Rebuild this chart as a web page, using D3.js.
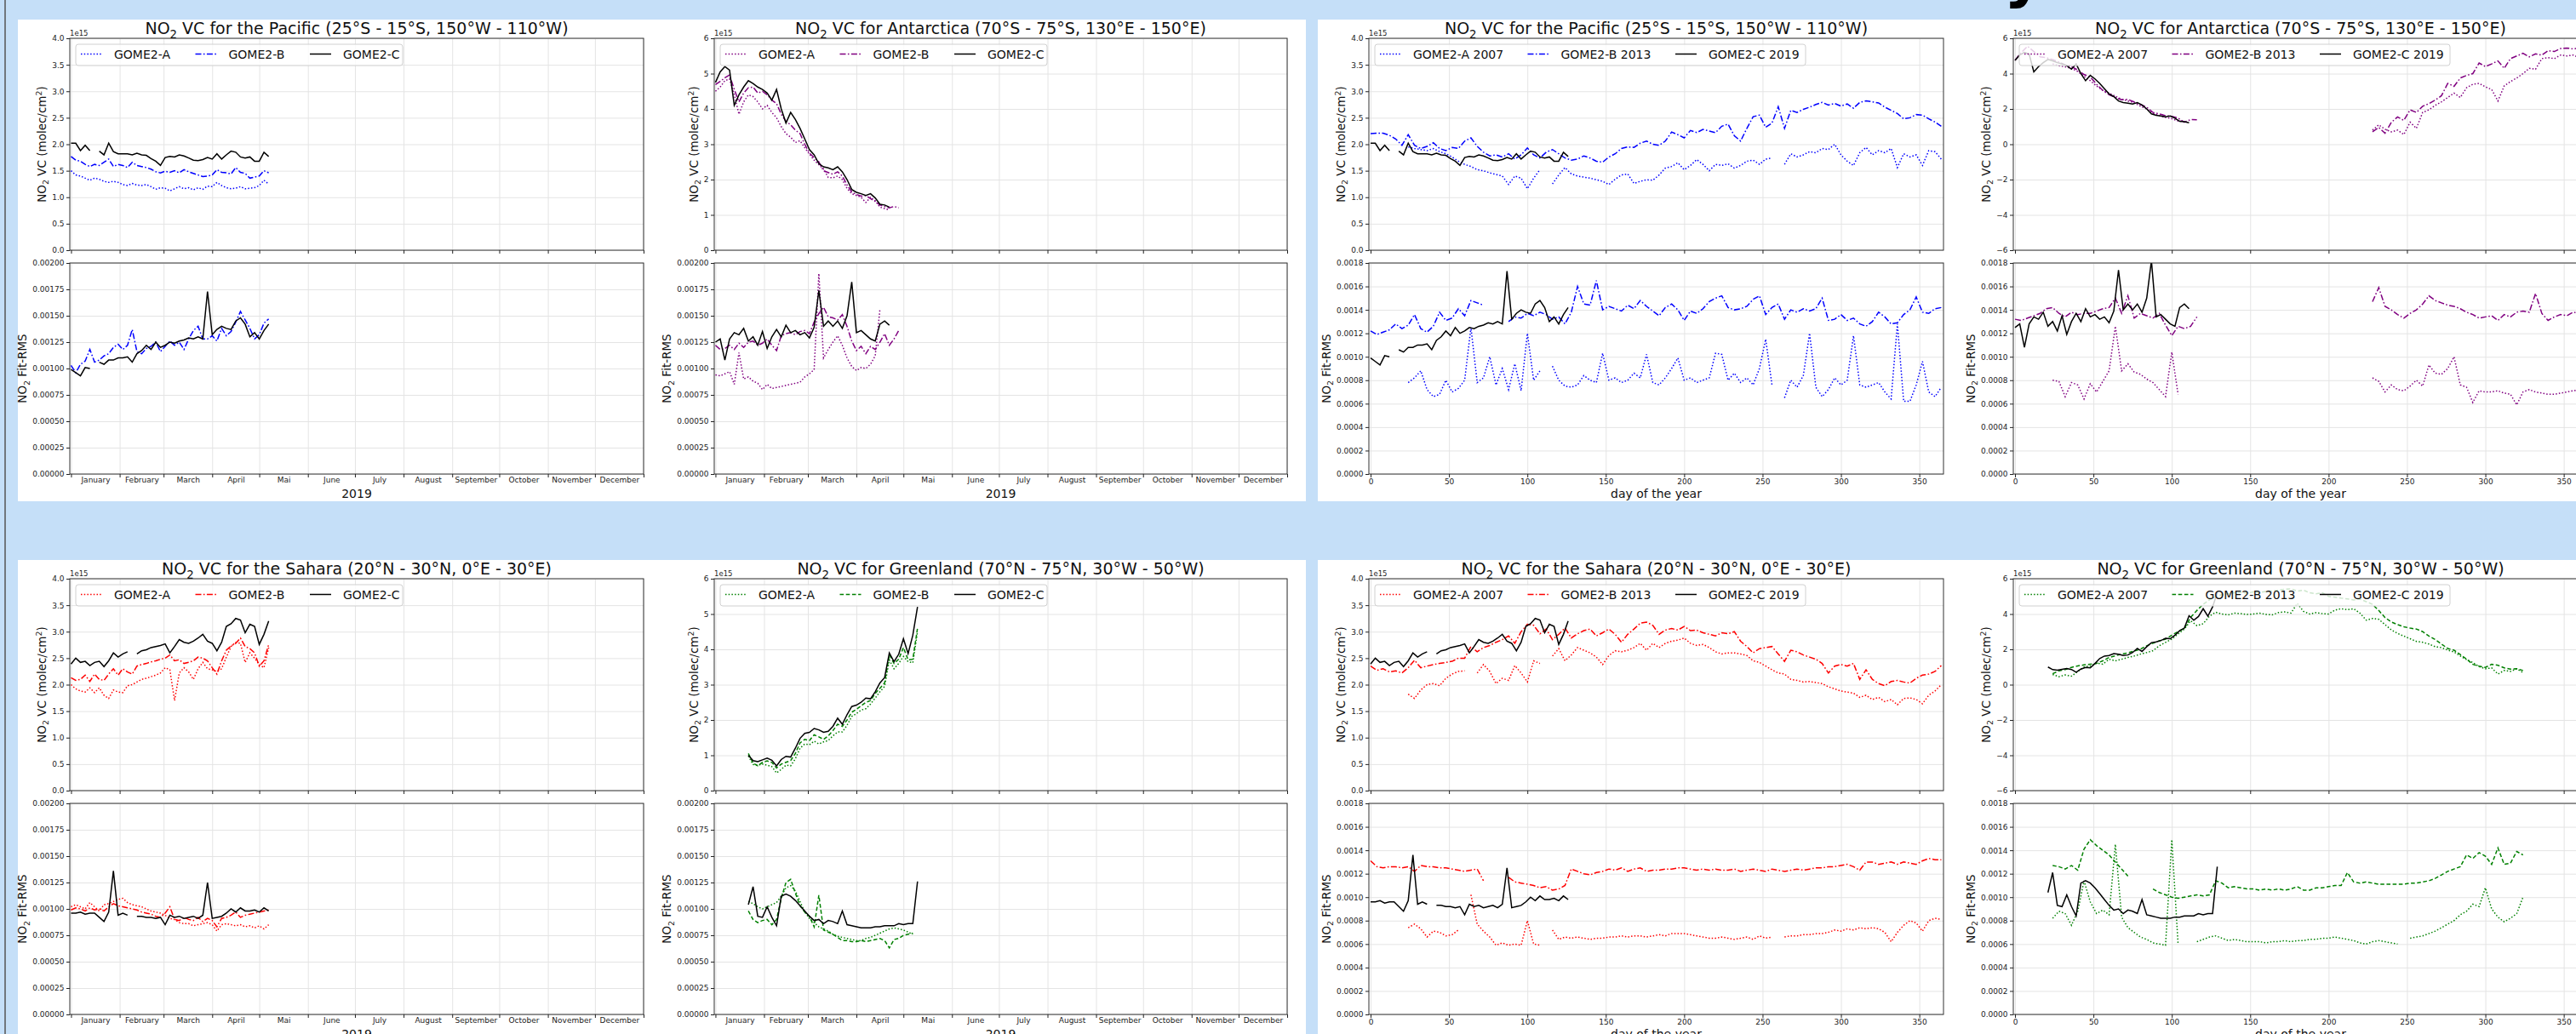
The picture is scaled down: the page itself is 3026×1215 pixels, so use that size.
<!DOCTYPE html>
<html>
<head>
<meta charset="utf-8">
<script src="https://cdn.jsdelivr.net/npm/d3@7"></script>
<style>
  body { margin: 0; background: #c5dff8; }
  svg { display: block; }
  text { font-family: "DejaVu Sans", sans-serif; }
</style>
</head>
<body>
<svg id="fig" width="3026" height="1215"></svg>
<script>
// ---- x categories -------------------------------------------------------
// 2019 series (GOME2-A/B/C 2019) sampled every third day of the year
const days3 = [0,3,6,9,12,15,18,21,24,27,30,33,36,39,42,45,48,51,54,57,60,63,66,69,72,75,78,81,84,87,
  90,93,96,99,102,105,108,111,114,117,120,123,126,129];
// first-year series (GOME2-A 2007, GOME2-B 2013) sampled every fourth day
const days4 = [0,4,8,12,16,20,24,28,32,36,
  40,44,48,52,56,60,64,68,72,76,
  80,84,88,92,96,100,104,108,112,116,
  120,124,128,132,136,140,144,148,152,156,
  160,164,168,172,176,180,184,188,192,196,
  200,204,208,212,216,220,224,228,232,236,
  240,244,248,252,256,260,264,268,272,276,
  280,284,288,292,296,300,304,308,312,316,
  320,324,328,332,336,340,344,348,352,356,
  360,364];

// ---- tick labels --------------------------------------------------------
const monthLabels = ["January","February","March","April","Mai","June","July","August","September","October","November","December"];
const dayTicks = [0,50,100,150,200,250,300,350];
const vcTicksHalf = [0,0.5,1,1.5,2,2.5,3,3.5,4];
const vcTicksInt = [0,1,2,3,4,5,6];
const vcTicksSym = [-6,-4,-2,0,2,4,6];
const rmsTicksL = [0,0.00025,0.0005,0.00075,0.001,0.00125,0.0015,0.00175,0.002];
const rmsTicksR = [0,0.0002,0.0004,0.0006,0.0008,0.001,0.0012,0.0014,0.0016,0.0018];
const legendL = ["GOME2-A","GOME2-B","GOME2-C"];
const legendR = ["GOME2-A 2007","GOME2-B 2013","GOME2-C 2019"];

// ---- Pacific ------------------------------------------------------------
// VC in 1e15 molec/cm2
const pacC_vc = [2.02,2.02,1.88,1.98,1.88,null,1.87,1.80,2.02,1.86,
  1.82,1.82,1.82,1.80,1.83,1.80,1.79,1.73,1.68,1.60,
  1.75,1.77,1.76,1.80,1.78,1.74,1.70,1.69,1.71,1.75,
  1.72,1.82,1.72,1.80,1.87,1.85,1.76,1.74,1.76,1.68,
  1.68,1.85,1.77];
const pacB19_vc = [1.77,1.70,1.68,1.62,1.58,1.62,1.60,1.66,1.72,1.58,
  1.62,1.60,1.56,1.66,1.60,1.58,1.56,1.53,1.48,1.46,
  1.49,1.47,1.50,1.46,1.52,1.48,1.45,1.42,1.39,1.40,
  1.42,1.52,1.47,1.46,1.44,1.56,1.47,1.45,1.36,1.38,
  1.40,1.50,1.46];
const pacA19_vc = [1.50,1.42,1.40,1.36,1.32,1.36,1.34,1.30,1.28,1.30,
  1.28,1.24,1.22,1.26,1.23,1.22,1.24,1.20,1.15,1.18,
  1.17,1.12,1.16,1.20,1.16,1.18,1.14,1.18,1.15,1.21,
  1.20,1.28,1.22,1.18,1.16,1.17,1.20,1.16,1.17,1.18,
  1.22,1.32,1.25];
const pacC_rms = [0.00099,0.00096,0.00093,0.00101,0.00100,null,0.00106,0.00104,0.00108,0.00108,
  0.00110,0.00110,0.00111,0.00106,0.00114,0.00117,0.00122,0.00118,0.00125,0.00120,
  0.00122,0.00125,0.00124,0.00126,0.00127,0.00129,0.00128,0.00130,0.00128,0.00173,
  0.00132,0.00137,0.00140,0.00138,0.00137,0.00145,0.00148,0.00142,0.00130,0.00134,
  0.00128,0.00136,0.00142];
const pacB19_rms = [0.00103,0.00096,0.00104,0.00107,0.00118,0.00106,0.00108,0.00112,0.00114,0.00120,
  0.00123,0.00118,0.00122,0.00137,0.00116,0.00114,0.00119,0.00121,0.00125,0.00116,
  0.00121,0.00126,0.00122,0.00125,0.00118,0.00128,0.00136,0.00140,0.00128,0.00128,
  0.00131,0.00126,0.00138,0.00131,0.00135,0.00144,0.00154,0.00146,0.00138,0.00128,
  0.00132,0.00143,0.00147];
const pacA19_rms = [];
const pacA07_vc = [null,null,null,null,null,null,1.95,1.92,1.90,1.88,
  1.92,1.86,1.82,1.76,1.68,1.62,1.58,1.52,1.50,1.46,
  1.43,1.40,1.24,1.40,1.36,1.16,1.36,1.52,null,1.25,
  1.42,1.56,1.44,1.40,1.38,1.36,1.33,1.30,1.24,1.34,
  1.42,1.44,1.26,1.30,1.33,1.32,1.42,1.55,1.58,1.65,
  1.52,1.60,1.71,1.62,1.50,1.62,1.60,1.63,1.55,1.60,
  1.68,1.70,1.62,1.72,1.74,null,1.62,1.82,1.76,1.80,
  1.86,1.84,1.92,1.90,2.00,1.80,1.68,1.60,1.84,1.94,
  1.80,1.88,1.84,1.92,1.56,1.82,1.76,1.80,1.60,1.88,
  1.86,1.72];
const pacB13_vc = [2.20,2.21,2.21,2.17,2.10,1.98,2.18,1.98,1.92,1.96,
  2.03,1.92,1.88,1.94,1.92,2.06,2.12,1.96,1.85,1.78,
  1.80,1.76,1.82,1.72,1.80,1.93,1.80,1.74,1.85,1.90,
  1.82,1.74,1.70,1.72,1.78,1.74,1.68,1.66,1.76,1.82,
  1.92,1.95,1.94,2.02,2.06,2.00,1.98,2.06,2.23,2.18,
  2.12,2.26,2.22,2.28,2.25,2.22,2.34,2.38,2.16,2.06,
  2.30,2.52,2.55,2.32,2.40,2.71,2.30,2.64,2.60,2.66,
  2.70,2.75,2.79,2.74,2.77,2.72,2.76,2.68,2.79,2.82,
  2.80,2.78,2.70,2.64,2.58,2.48,2.50,2.56,2.55,2.48,
  2.42,2.34];
const pacA07_rms = [null,null,null,null,null,null,0.00078,0.00082,0.00088,0.00072,
  0.00066,0.00068,0.00080,0.00070,0.00073,0.00080,0.00125,0.00078,0.00082,0.00100,
  0.00076,0.00090,0.00072,0.00094,0.00071,0.00120,0.00080,0.00088,null,0.00092,
  0.00080,0.00075,0.00074,0.00076,0.00084,0.00080,0.00078,0.00103,0.00080,0.00082,
  0.00078,0.00080,0.00086,0.00082,0.00102,0.00078,0.00076,0.00082,0.00090,0.00099,
  0.00080,0.00082,0.00078,0.00080,0.00082,0.00103,0.00102,0.00080,0.00086,0.00078,
  0.00082,0.00076,0.00090,0.00115,0.00076,null,0.00065,0.00080,0.00074,0.00084,
  0.00120,0.00074,0.00066,0.00072,0.00082,0.00076,0.00080,0.00118,0.00076,0.00074,
  0.00076,0.00078,0.00070,0.00064,0.00128,0.00062,0.00062,0.00076,0.00096,0.00070,
  0.00066,0.00074];
const pacB13_rms = [0.00122,0.00119,0.00121,0.00123,0.00128,0.00124,0.00127,0.00136,0.00124,0.00121,
  0.00126,0.00138,0.00131,0.00133,0.00141,0.00135,0.00148,0.00146,0.00144,null,
  null,null,0.00130,0.00134,0.00133,0.00137,0.00135,0.00138,0.00136,0.00132,
  0.00134,0.00128,0.00138,0.00160,0.00145,0.00144,0.00165,0.00140,0.00143,0.00141,
  0.00139,0.00144,0.00141,0.00148,0.00143,0.00139,0.00135,0.00142,0.00145,0.00140,
  0.00131,0.00139,0.00137,0.00141,0.00147,0.00150,0.00152,0.00142,0.00140,0.00141,
  0.00143,0.00149,0.00152,0.00136,0.00142,0.00145,0.00132,0.00140,0.00138,0.00141,
  0.00139,0.00141,0.00150,0.00131,0.00132,0.00136,0.00131,0.00133,0.00128,0.00126,
  0.00130,0.00138,0.00134,0.00128,0.00129,0.00136,0.00140,0.00151,0.00138,0.00137,
  0.00141,0.00142];

// ---- Antarctica ---------------------------------------------------------
const antC_vc = [4.75,5.05,5.20,5.10,4.10,4.40,4.62,4.80,4.72,4.62,
  4.55,4.45,4.25,4.55,4.00,3.60,3.90,3.70,3.45,3.15,
  2.85,2.70,2.45,2.36,2.33,2.28,2.36,2.22,2.00,1.72,
  1.64,1.60,1.55,1.60,1.48,1.30,1.28,1.22];
const antB19_vc = [4.69,4.78,4.88,4.96,4.55,4.20,4.45,4.60,4.62,4.45,
  4.50,4.40,4.25,4.15,3.85,3.65,3.55,3.40,3.30,3.00,
  2.75,2.62,2.50,2.25,2.20,2.15,2.22,2.10,1.85,1.65,
  1.58,1.53,1.55,1.46,1.38,1.28,1.24,1.20,1.24,1.20];
const antA19_vc = [4.50,4.62,4.80,4.85,4.40,3.85,4.20,4.40,4.35,4.20,
  4.00,4.10,3.90,3.75,3.50,3.30,3.20,3.05,3.10,2.90,
  2.72,2.55,2.42,2.30,2.06,2.05,2.10,2.00,1.75,1.60,
  1.55,1.50,1.35,1.50,1.40,1.22,1.18,1.14];
const antC_rms = [0.00125,0.00128,0.00108,0.00128,0.00134,0.00132,0.00138,0.00126,0.00130,0.00122,
  0.00135,0.00119,0.00130,0.00137,0.00130,0.00141,0.00134,0.00136,0.00132,0.00134,
  0.00129,0.00139,0.00174,0.00140,0.00145,0.00140,0.00145,0.00138,0.00150,0.00182,
  0.00134,0.00136,0.00132,0.00128,0.00126,0.00142,0.00145,0.00141];
const antB19_rms = [0.00122,0.00118,0.00119,0.00122,0.00118,0.00124,0.00120,0.00125,0.00126,0.00122,
  0.00124,0.00128,0.00122,0.00117,0.00131,0.00133,0.00134,0.00132,0.00135,0.00136,
  0.00133,0.00144,0.00152,0.00158,0.00149,0.00148,0.00146,0.00151,0.00140,0.00126,
  0.00117,0.00121,0.00114,0.00121,0.00118,0.00125,0.00133,0.00122,0.00128,0.00136];
const antA19_rms = [0.00094,0.00093,0.00095,0.00097,0.00085,0.00115,0.00090,0.00092,0.00088,0.00086,
  0.00080,0.00085,0.00081,0.00082,0.00083,0.00084,0.00085,0.00086,0.00087,0.00092,
  0.00095,0.00099,0.00190,0.00110,0.00118,0.00125,0.00131,0.00122,0.00110,0.00102,
  0.00098,0.00101,0.00100,0.00104,0.00112,0.00156];
const antA07_vc = [null,null,null,null,null,null,4.55,4.45,4.38,4.30,
  4.12,3.85,3.60,3.30,3.05,2.90,2.72,2.55,2.45,2.35,
  2.15,2.00,1.75,1.62,1.52,1.45,1.32,1.28,null,null,
  null,null,null,null,null,null,null,null,null,null,
  null,null,null,null,null,null,null,null,null,null,
  null,null,null,null,null,null,null,0.80,1.10,0.85,
  0.70,0.80,0.55,1.25,0.90,1.80,1.95,2.20,2.40,2.65,
  2.90,2.65,3.20,3.40,3.45,3.25,3.10,2.45,3.30,3.55,
  3.75,4.00,4.30,4.25,4.85,4.90,4.85,5.05,5.00,5.05,
  4.90,4.95];
const antB13_vc = [4.76,5.20,5.55,5.25,4.95,4.90,4.80,4.65,4.50,4.40,
  4.20,3.95,3.80,3.40,3.05,2.80,2.65,2.52,2.54,2.40,
  2.25,2.10,1.80,1.72,1.62,1.58,1.48,1.25,1.40,1.38,
  null,null,null,null,null,null,null,null,null,null,
  null,null,null,null,null,null,null,null,null,null,
  null,null,null,null,null,null,null,0.70,0.95,0.62,
  1.24,1.55,1.35,1.95,1.80,2.15,2.30,2.50,2.75,3.45,
  3.28,3.75,3.90,4.00,4.60,4.40,4.55,4.72,4.30,4.85,
  5.00,5.15,4.95,5.12,5.05,5.30,5.25,5.42,5.45,5.40,
  5.45,5.40];
const antA07_rms = [null,null,null,null,null,null,0.00080,0.00079,0.00066,0.00078,
  0.00076,0.00064,0.00077,0.00070,0.00079,0.00088,0.00126,0.00088,0.00094,0.00087,
  0.00085,0.00081,0.00078,0.00072,0.00066,0.00104,0.00068,null,null,null,
  null,null,null,null,null,null,null,null,null,null,
  null,null,null,null,null,null,null,null,null,null,
  null,null,null,null,null,null,null,0.00082,0.00079,0.00070,
  0.00076,0.00072,0.00071,0.00075,0.00080,0.00075,0.00093,0.00086,0.00085,0.00090,
  0.00100,0.00076,0.00074,0.00061,0.00071,0.00070,0.00070,0.00071,0.00069,0.00068,
  0.00059,0.00070,0.00072,0.00070,0.00069,0.00068,0.00068,0.00069,0.00070,0.00071,
  0.00072,0.00071];
const antB13_rms = [0.00132,0.00131,0.00133,0.00135,0.00137,0.00141,0.00142,0.00137,0.00134,0.00138,
  0.00136,0.00137,0.00137,0.00139,0.00141,0.00142,0.00150,0.00137,0.00152,0.00133,
  0.00137,0.00135,0.00133,0.00137,0.00127,0.00118,0.00126,0.00124,0.00126,0.00134,
  null,null,null,null,null,null,null,null,null,null,
  null,null,null,null,null,null,null,null,null,null,
  null,null,null,null,null,null,null,0.00147,0.00159,0.00143,
  0.00140,0.00136,0.00133,0.00137,0.00140,0.00145,0.00152,0.00148,0.00146,0.00144,
  0.00143,0.00141,0.00138,0.00136,0.00133,0.00134,0.00135,0.00131,0.00136,0.00134,
  0.00138,0.00139,0.00138,0.00154,0.00137,0.00131,0.00134,0.00136,0.00135,0.00138,
  0.00137,0.00139];

// ---- Sahara -------------------------------------------------------------
const sahC_vc = [2.39,2.50,2.42,2.44,2.36,2.42,2.44,2.34,2.45,2.60,
  2.52,2.58,2.62,null,2.58,2.64,2.66,2.70,2.72,2.74,
  2.77,2.60,2.72,2.85,2.80,2.78,2.82,2.88,2.95,2.82,
  2.78,2.64,2.80,3.10,3.15,3.25,3.22,2.98,3.14,3.10,
  2.76,2.95,3.20];
const sahB19_vc = [2.13,2.08,2.10,2.18,2.06,2.20,2.10,2.08,2.20,2.30,
  2.18,2.30,2.24,2.20,2.35,2.38,2.40,2.43,2.45,2.48,
  2.50,2.56,2.45,2.47,2.40,2.42,2.45,2.52,2.50,2.45,
  2.32,2.20,2.45,2.65,2.73,2.78,2.88,2.72,2.68,2.60,
  2.35,2.45,2.76];
const sahA19_vc = [2.00,1.92,1.88,1.86,1.94,1.85,1.94,1.80,1.74,1.90,
  1.86,1.85,1.98,2.00,2.05,2.10,2.12,2.15,2.18,2.22,
  2.32,2.28,1.70,2.22,2.32,2.24,2.10,2.30,2.42,2.30,
  2.28,2.25,2.30,2.52,2.72,2.80,2.78,2.42,2.60,2.50,
  2.38,2.32,2.70];
const sahC_rms = [0.00096,0.00096,0.00097,0.00095,0.00096,0.00096,0.00092,0.00088,0.00097,0.00136,
  0.00094,0.00096,0.00094,null,0.00093,0.00093,0.00092,0.00092,0.00091,0.00092,
  0.00085,0.00094,0.00092,0.00093,0.00091,0.00092,0.00093,0.00091,0.00094,0.00125,
  0.00091,0.00092,0.00093,0.00096,0.00100,0.00097,0.00101,0.00098,0.00098,0.00099,
  0.00097,0.00101,0.00098];
const sahB19_rms = [0.00099,0.00101,0.00100,0.00098,0.00101,0.00099,0.00100,0.00098,0.00102,0.00105,
  0.00103,0.00102,0.00101,0.00100,0.00099,0.00097,0.00096,0.00095,0.00093,0.00092,
  0.00096,0.00102,0.00090,0.00089,0.00092,0.00090,0.00089,0.00092,0.00088,0.00091,
  0.00089,0.00083,0.00091,0.00092,0.00094,0.00097,0.00092,0.00094,0.00095,0.00096,
  0.00097,0.00098,0.00099];
const sahA19_rms = [0.00102,0.00104,0.00102,0.00100,0.00106,0.00102,0.00098,0.00104,0.00105,0.00107,
  0.00109,0.00110,0.00106,0.00104,0.00103,0.00102,0.00100,0.00098,0.00097,0.00096,
  0.00094,0.00091,0.00090,0.00087,0.00086,0.00086,0.00084,0.00085,0.00086,0.00087,
  0.00085,0.00079,0.00085,0.00086,0.00085,0.00084,0.00085,0.00083,0.00084,0.00082,
  0.00084,0.00081,0.00085];
const sahA07_vc = [null,null,null,null,null,null,1.82,1.74,1.90,2.00,
  2.02,1.98,2.12,2.20,2.25,2.26,null,2.22,2.38,2.25,
  2.02,2.12,2.08,2.36,2.22,2.05,2.45,2.40,null,2.54,
  2.68,2.45,2.56,2.70,2.65,2.60,2.52,2.38,2.55,2.64,
  2.62,2.65,2.70,2.78,2.65,2.78,2.70,2.78,2.82,2.84,
  2.88,2.78,2.74,2.76,2.70,2.62,2.58,2.60,2.60,2.58,
  2.55,2.45,2.42,2.35,2.28,2.22,2.20,2.10,2.08,2.05,
  2.06,2.04,2.02,1.96,1.92,1.88,1.86,1.84,1.76,1.80,
  1.72,1.76,1.68,1.72,1.62,1.74,1.75,1.72,1.64,1.80,
  1.88,2.00];
const sahB13_vc = [2.35,2.27,2.30,2.24,2.26,2.22,2.32,2.46,2.32,2.35,
  2.38,2.40,2.42,2.44,2.50,2.50,2.72,2.62,2.70,2.74,
  2.80,2.85,2.92,2.78,3.00,3.14,3.12,2.96,3.05,2.85,
  2.95,3.07,2.88,2.96,3.02,3.05,2.92,2.98,3.05,2.95,
  2.80,2.95,3.05,3.16,3.18,3.12,2.95,3.03,3.06,3.03,
  3.10,3.02,3.03,2.98,2.95,2.92,2.98,2.96,3.00,2.82,
  2.72,2.60,2.68,2.70,2.72,2.58,2.44,2.65,2.62,2.56,
  2.52,2.48,2.40,2.22,2.35,2.38,2.35,2.40,2.10,2.28,
  2.10,2.02,1.98,2.06,2.08,2.05,2.03,2.12,2.18,2.20,
  2.25,2.36];
const sahA07_rms = [null,null,null,null,null,null,0.00074,0.00077,0.00073,0.00066,
  0.00071,0.00070,0.00067,0.00068,0.00072,null,0.00102,0.00077,0.00071,0.00066,
  0.00059,0.00061,0.00059,0.00060,0.00059,0.00080,0.00060,0.00059,null,0.00072,
  0.00064,0.00066,0.00065,0.00066,0.00065,0.00064,0.00065,0.00065,0.00066,0.00066,
  0.00067,0.00066,0.00067,0.00067,0.00066,0.00067,0.00068,0.00067,0.00069,0.00069,
  0.00069,0.00068,0.00067,0.00066,0.00065,0.00065,0.00066,0.00065,0.00064,0.00065,
  0.00066,0.00064,0.00067,0.00065,0.00066,null,0.00066,0.00067,0.00067,0.00068,
  0.00068,0.00069,0.00069,0.00070,0.00072,0.00071,0.00073,0.00072,0.00074,0.00073,
  0.00074,0.00073,0.00070,0.00062,0.00070,0.00076,0.00080,0.00078,0.00071,0.00080,
  0.00082,0.00081];
const sahB13_rms = [0.00131,0.00126,0.00125,0.00126,0.00126,0.00125,0.00126,0.00122,0.00127,0.00126,
  0.00126,0.00125,0.00125,0.00124,0.00123,0.00122,0.00123,0.00124,0.00114,null,
  null,null,0.00117,0.00113,0.00112,0.00111,0.00110,0.00108,0.00109,0.00106,
  0.00107,0.00110,0.00124,0.00122,0.00120,0.00119,0.00121,0.00122,0.00124,0.00123,
  0.00125,0.00122,0.00124,0.00125,0.00122,0.00123,0.00123,0.00124,0.00124,0.00125,
  0.00125,0.00124,0.00123,0.00124,0.00123,0.00124,0.00123,0.00123,0.00124,0.00122,
  0.00123,0.00124,0.00123,0.00122,0.00124,0.00123,0.00122,0.00123,0.00124,0.00123,
  0.00124,0.00125,0.00125,0.00126,0.00126,0.00127,0.00128,0.00126,0.00123,0.00130,
  0.00130,0.00128,0.00129,0.00130,0.00128,0.00130,0.00129,0.00128,0.00131,0.00133,
  0.00132,0.00132];

// ---- Greenland ----------------------------------------------------------
const grlC_vc = [null,null,null,null,null,null,null,1.00,0.85,0.82,
  0.87,0.92,0.86,0.70,0.88,0.97,0.95,1.20,1.48,1.62,
  1.65,1.76,1.72,1.65,1.68,1.82,2.05,1.88,2.15,2.38,
  2.42,2.50,2.62,2.60,2.80,3.05,3.20,3.90,3.65,3.86,
  4.30,3.88,4.40,5.20];
const grlB19_vc = [null,null,null,null,null,null,null,1.05,0.78,0.70,
  0.80,0.84,0.80,0.64,0.75,0.80,0.85,1.05,1.35,1.45,
  1.42,1.58,1.52,1.45,1.55,1.70,1.88,1.82,2.00,2.22,
  2.30,2.40,2.50,2.55,2.75,2.90,3.05,3.85,3.60,3.72,
  4.05,3.70,3.72,4.60];
const grlA19_vc = [null,null,null,null,null,null,null,0.98,0.74,0.72,
  0.75,0.72,0.68,0.50,0.60,0.72,0.70,0.90,1.20,1.32,
  1.30,1.40,1.32,1.38,1.42,1.55,1.66,1.66,1.85,2.10,
  2.18,2.28,2.32,2.45,2.62,2.80,2.95,3.70,3.45,3.60,
  3.80,3.65,3.62,4.50];
const grlC_rms = [null,null,null,null,null,null,null,0.00104,0.00121,0.00093,
  0.00092,0.00102,0.00092,0.00084,0.00112,0.00114,0.00112,0.00108,0.00103,0.00098,
  0.00093,0.00089,0.00090,0.00086,0.00089,0.00088,0.00086,0.00098,0.00085,0.00084,
  0.00083,0.00082,0.00082,0.00082,0.00083,0.00083,0.00084,0.00084,0.00084,0.00086,
  0.00085,0.00086,0.00086,0.00126];
const grlB19_rms = [null,null,null,null,null,null,null,0.00098,0.00090,0.00087,
  0.00089,0.00090,0.00085,0.00090,0.00110,0.00125,0.00128,0.00115,0.00103,0.00097,
  0.00093,0.00083,0.00113,0.00080,0.00078,0.00076,0.00073,0.00070,0.00070,0.00069,
  0.00069,0.00070,0.00069,0.00070,0.00071,0.00072,0.00070,0.00063,0.00071,0.00072,
  0.00075,0.00076,0.00077];
const grlA19_rms = [null,null,null,null,null,null,null,0.00107,0.00105,0.00102,
  0.00100,0.00102,0.00104,0.00106,0.00112,0.00120,0.00122,0.00117,0.00107,0.00097,
  0.00091,0.00087,0.00083,0.00081,0.00079,0.00076,0.00074,0.00073,0.00072,0.00071,
  0.00070,0.00070,0.00072,0.00073,0.00075,0.00077,0.00079,0.00081,0.00082,0.00081,
  0.00080,0.00078,0.00076];
const grlA07_vc = [null,null,null,null,null,null,0.58,0.45,0.55,0.48,
  0.75,1.00,1.05,1.22,1.16,1.44,1.35,1.44,1.54,1.62,
  1.73,1.82,1.92,2.20,2.39,2.58,2.87,3.15,3.62,3.34,
  3.45,3.88,4.10,4.00,3.95,4.05,4.02,3.98,4.00,4.05,
  3.98,3.95,4.08,4.12,4.05,4.60,4.15,4.00,4.08,4.02,
  4.00,4.22,4.30,4.25,4.30,4.05,3.65,3.75,3.70,3.40,
  3.10,2.90,2.75,2.60,2.45,2.40,2.30,2.15,2.10,1.95,
  1.85,1.62,1.42,1.25,1.02,0.90,0.95,0.60,0.80,0.75,
  0.90,0.68,null,null,null,null,null,null,null,null,
  null,null];
const grlB13_vc = [null,null,null,null,null,null,0.62,0.78,0.85,0.98,
  1.06,1.12,1.16,1.20,1.35,1.54,1.63,1.73,1.80,1.90,
  2.01,2.20,2.35,2.48,2.58,2.80,3.00,3.20,3.81,4.20,
  4.55,4.80,5.00,5.10,5.15,5.20,5.22,5.18,5.25,5.22,
  5.28,5.30,5.35,5.40,5.43,5.30,5.35,5.20,5.15,5.20,
  5.00,4.95,4.90,4.86,4.80,4.85,4.70,4.55,4.20,3.80,
  3.55,3.40,3.28,3.20,3.15,3.00,2.75,2.55,2.30,2.05,
  1.95,1.70,1.45,1.15,1.05,0.98,1.15,1.10,0.95,0.88,
  0.90,0.80,null,null,null,null,null,null,null,null,
  null,null];
const grlA07_rms = [null,null,null,null,null,null,0.00082,0.00088,0.00086,0.00076,
  0.00088,0.00114,0.00096,0.00086,0.00089,0.00085,0.00145,0.00083,0.00074,0.00070,
  0.00066,0.00064,0.00061,0.00060,0.00059,0.00149,0.00060,null,null,0.00062,
  0.00064,0.00066,0.00067,0.00065,0.00063,0.00064,0.00063,0.00062,0.00062,0.00062,
  0.00061,0.00062,0.00062,0.00063,0.00062,0.00063,0.00063,0.00064,0.00064,0.00065,
  0.00065,0.00066,0.00065,0.00064,0.00063,0.00061,0.00060,0.00062,0.00063,0.00062,
  0.00061,0.00060,null,0.00065,0.00066,0.00067,0.00069,0.00071,0.00074,0.00077,
  0.00080,0.00085,0.00088,0.00094,0.00092,0.00108,0.00090,0.00083,0.00079,0.00082,
  0.00086,0.00100,null,null,null,null,null,null,null,null,
  null,null];
const grlB13_rms = [null,null,null,null,null,null,0.00127,0.00126,0.00124,0.00127,
  0.00123,0.00141,0.00149,0.00144,0.00140,0.00136,0.00130,0.00124,0.00118,null,
  null,null,0.00107,0.00104,0.00102,0.00100,0.00099,0.00100,0.00101,0.00102,
  0.00101,0.00102,0.00114,0.00112,0.00108,0.00109,0.00108,0.00107,0.00107,0.00106,
  0.00107,0.00106,0.00107,0.00106,0.00107,0.00109,0.00106,0.00106,0.00108,0.00108,
  0.00109,0.00110,0.00110,0.00121,0.00113,0.00112,0.00113,0.00112,0.00111,0.00111,
  0.00111,0.00111,0.00111,0.00112,0.00112,0.00113,0.00114,0.00116,0.00119,0.00122,
  0.00124,0.00126,0.00136,0.00133,0.00138,0.00135,0.00128,0.00142,0.00128,0.00129,
  0.00139,0.00136,null,null,null,null,null,null,null,null,
  null,null];

// ---- figure set-up ------------------------------------------------------
const regions = [
  { name: "pac", col: 0, row: 0, color: "#0000ff", bStyle: "dashdot",
    title: " VC for the Pacific (25°S - 15°S, 150°W - 110°W)",
    vcL: [0, 4], vcR: [0, 4], ticksL: vcTicksHalf, ticksR: vcTicksHalf, fmtL: ".1f", fmtR: ".1f",
    c: [pacC_vc, pacC_rms], a19: [pacA19_vc, pacA19_rms], b19: [pacB19_vc, pacB19_rms],
    a07: [pacA07_vc, pacA07_rms], b13: [pacB13_vc, pacB13_rms] },
  { name: "ant", col: 1, row: 0, color: "#800080", bStyle: "dashdot",
    title: " VC for Antarctica (70°S - 75°S, 130°E - 150°E)",
    vcL: [0, 6], vcR: [-6, 6], ticksL: vcTicksInt, ticksR: vcTicksSym, fmtL: "d", fmtR: "d",
    c: [antC_vc, antC_rms], a19: [antA19_vc, antA19_rms], b19: [antB19_vc, antB19_rms],
    a07: [antA07_vc, antA07_rms], b13: [antB13_vc, antB13_rms] },
  { name: "sah", col: 0, row: 1, color: "#ff0000", bStyle: "dashdot",
    title: " VC for the Sahara (20°N - 30°N, 0°E - 30°E)",
    vcL: [0, 4], vcR: [0, 4], ticksL: vcTicksHalf, ticksR: vcTicksHalf, fmtL: ".1f", fmtR: ".1f",
    c: [sahC_vc, sahC_rms], a19: [sahA19_vc, sahA19_rms], b19: [sahB19_vc, sahB19_rms],
    a07: [sahA07_vc, sahA07_rms], b13: [sahB13_vc, sahB13_rms] },
  { name: "grl", col: 1, row: 1, color: "#008000", bStyle: "dashed",
    title: " VC for Greenland (70°N - 75°N, 30°W - 50°W)",
    vcL: [0, 6], vcR: [-6, 6], ticksL: vcTicksInt, ticksR: vcTicksSym, fmtL: "d", fmtR: "d",
    c: [grlC_vc, grlC_rms], a19: [grlA19_vc, grlA19_rms], b19: [grlB19_vc, grlB19_rms],
    a07: [grlA07_vc, grlA07_rms], b13: [grlB13_vc, grlB13_rms] }
];

const dashes = { dotted: "1.5,2.2", dashdot: "7,2.4,1.6,2.4", dashed: "4.6,2.6", solid: null };
const colX = [[82, 756], [839, 1512], [1608, 2283], [2365, 3040]];
const rowY = [0, 635];
const gridColor = "#e4e4e4";
const inkColor = "#222";
const lineW = 1.5;

const svg = d3.select("#fig");
svg.append("rect").attr("width", 3026).attr("height", 1215).attr("fill", "#c5dff8");
svg.append("line").attr("x1", 6).attr("x2", 6).attr("y1", 0).attr("y2", 1215)
  .attr("stroke", "#555").attr("stroke-width", 1.5);
[[21, 23, 1513, 566], [1548, 23, 1500, 566], [21, 658, 1513, 600], [1548, 658, 1500, 600]]
  .forEach(([x, y, w, h]) => svg.append("rect").attr("x", x).attr("y", y).attr("width", w).attr("height", h).attr("fill", "#fff"));

// bottom of the cut-off slide title
svg.append("text").attr("x", 2354).attr("y", -5).attr("font-size", 72).attr("font-weight", "bold")
  .attr("fill", "#000").text("y");

function no2(sel, rest, size, sup) {
  sel.append("tspan").text("NO");
  sel.append("tspan").attr("font-size", size * 0.7).attr("dy", size * 0.24).text("2");
  sel.append("tspan").attr("dy", -size * 0.24).text(rest);
  if (sup) {
    sel.append("tspan").attr("font-size", size * 0.7).attr("dy", -size * 0.38).text("2");
    sel.append("tspan").attr("dy", size * 0.38).text(")");
  }
}

function styleAxis(a) {
  a.attr("font-size", 9).attr("color", inkColor);
  a.select(".domain").remove();
}

function drawChart(r, side) {
  const left = side === 0;
  const [x0, x1] = colX[r.col + (left ? 0 : 2)];
  const off = rowY[r.row];
  const pA = [45 + off, 294 + off], pB = [309 + off, 557 + off];
  const g = svg.append("g");

  let x, xTicks, px;
  if (left) {
    x = d3.scaleUtc().domain([new Date(Date.UTC(2018, 11, 31, 5)), new Date(Date.UTC(2020, 0, 1))]).range([x0, x1]);
    xTicks = d3.utcMonth.range(new Date(Date.UTC(2019, 0, 1)), new Date(Date.UTC(2020, 0, 2)));
    px = d => x(new Date(Date.UTC(2019, 0, 1) + d * 864e5));
  } else {
    x = d3.scaleLinear().domain([-1.1, 365.4]).range([x0, x1]);
    xTicks = dayTicks;
    px = d => x(d);
  }

  const yTop = d3.scaleLinear().domain(left ? r.vcL : r.vcR).range([pA[1], pA[0]]);
  const yBot = d3.scaleLinear().domain(left ? [0, 0.002] : [0, 0.0018]).range([pB[1], pB[0]]);

  const series = left
    ? [[r.a19, "dotted", r.color, days3], [r.b19, r.bStyle, r.color, days3], [r.c, "solid", "#000", days3]]
    : [[r.a07, "dotted", r.color, days4], [r.b13, r.bStyle, r.color, days4], [r.c, "solid", "#000", days3]];

  const subs = [
    { y: yTop, p: pA, ticks: left ? r.ticksL : r.ticksR, fmt: left ? r.fmtL : r.fmtR },
    { y: yBot, p: pB, ticks: left ? rmsTicksL : rmsTicksR, fmt: left ? ".5f" : ".4f" }
  ];

  subs.forEach((s, k) => {
    const { y, p } = s;
    const clipId = `clip-${r.name}-${side}-${k}`;
    g.append("clipPath").attr("id", clipId).append("rect")
      .attr("x", x0).attr("y", p[0]).attr("width", x1 - x0).attr("height", p[1] - p[0]);

    // grid
    g.append("g").attr("transform", `translate(0,${p[1]})`)
      .call(d3.axisBottom(x).tickValues(xTicks).tickSize(-(p[1] - p[0])).tickFormat(""))
      .call(a => a.select(".domain").remove())
      .selectAll("line").attr("stroke", gridColor);
    g.append("g").attr("transform", `translate(${x0},0)`)
      .call(d3.axisLeft(y).tickValues(s.ticks).tickSize(-(x1 - x0)).tickFormat(""))
      .call(a => a.select(".domain").remove())
      .selectAll("line").attr("stroke", gridColor);

    // series
    const lineGen = d3.line().defined(q => q.v != null).x(q => px(q.d)).y(q => y(q.v));
    const lines = g.append("g").attr("clip-path", `url(#${clipId})`);
    series.forEach(([arrs, style, color, dd]) => {
      const pts = arrs[k].map((v, i) => ({ d: dd[i], v }));
      lines.append("path").attr("d", lineGen(pts)).attr("fill", "none")
        .attr("stroke", color).attr("stroke-width", lineW)
        .attr("stroke-dasharray", dashes[style]);
    });

    // frame
    g.append("rect").attr("x", x0).attr("y", p[0]).attr("width", x1 - x0).attr("height", p[1] - p[0])
      .attr("fill", "none").attr("stroke", "#333").attr("stroke-width", 1);

    // y axis
    const ya = g.append("g").attr("transform", `translate(${x0},0)`)
      .call(d3.axisLeft(y).tickValues(s.ticks).tickSize(4).tickPadding(2.5).tickFormat(d3.format(s.fmt)));
    styleAxis(ya);
    const bb = ya.node().getBBox();
    const lab = g.append("text").attr("font-size", 13.5).attr("fill", "#111").attr("text-anchor", "middle")
      .attr("transform", `translate(${x0 + bb.x - 7},${(p[0] + p[1]) / 2}) rotate(-90)`);
    if (k === 0) no2(lab, " VC (molec/cm", 13.5, true);
    else no2(lab, " Fit-RMS", 13.5, false);

    // x ticks
    const xa = g.append("g").attr("transform", `translate(0,${p[1]})`)
      .call(d3.axisBottom(x).tickValues(xTicks).tickSize(4).tickPadding(2)
        .tickFormat(k === 1 && !left ? d3.format("d") : ""));
    styleAxis(xa);
  });

  // month names between the month ticks
  if (left) {
    const months = d3.utcMonth.range(new Date(Date.UTC(2019, 0, 1)), new Date(Date.UTC(2020, 0, 1)));
    const mids = months.map(m => new Date((+m + +d3.utcMonth.offset(m, 1)) / 2));
    const ma = g.append("g").attr("transform", `translate(0,${pB[1]})`)
      .call(d3.axisBottom(x).tickValues(mids).tickSize(0).tickPadding(4).tickFormat((d, i) => monthLabels[i]));
    styleAxis(ma);
  }

  g.append("text").attr("x", (x0 + x1) / 2).attr("y", pB[1] + 28).attr("text-anchor", "middle")
    .attr("font-size", 14).attr("fill", "#111").text(left ? "2019" : "day of the year");

  // offset text and title
  g.append("text").attr("x", x0).attr("y", pA[0] - 3).attr("font-size", 8.5).attr("fill", inkColor).text("1e15");
  const t = g.append("text").attr("x", (x0 + x1) / 2).attr("y", pA[0] - 5).attr("text-anchor", "middle")
    .attr("font-size", 19).attr("fill", "#111");
  no2(t, r.title, 19, false);

  // legend
  const lw = left ? 384 : 506, step = left ? 134.5 : 173.5;
  const labels = left ? legendL : legendR;
  const leg = g.append("g").attr("transform", `translate(${x0 + 7},${pA[0] + 7})`);
  leg.append("rect").attr("width", lw).attr("height", 25).attr("rx", 3)
    .attr("fill", "#fff").attr("fill-opacity", 0.8).attr("stroke", "#d0d0d0");
  series.forEach(([, style, color], i) => {
    const ex = 6 + i * step;
    leg.append("line").attr("x1", ex).attr("x2", ex + 25).attr("y1", 11.5).attr("y2", 11.5)
      .attr("stroke", color).attr("stroke-width", lineW).attr("stroke-dasharray", dashes[style]);
    leg.append("text").attr("x", ex + 39).attr("y", 17).attr("font-size", 14).attr("fill", "#111").text(labels[i]);
  });
}

regions.forEach(r => { drawChart(r, 0); drawChart(r, 1); });
</script>
</body>
</html>
